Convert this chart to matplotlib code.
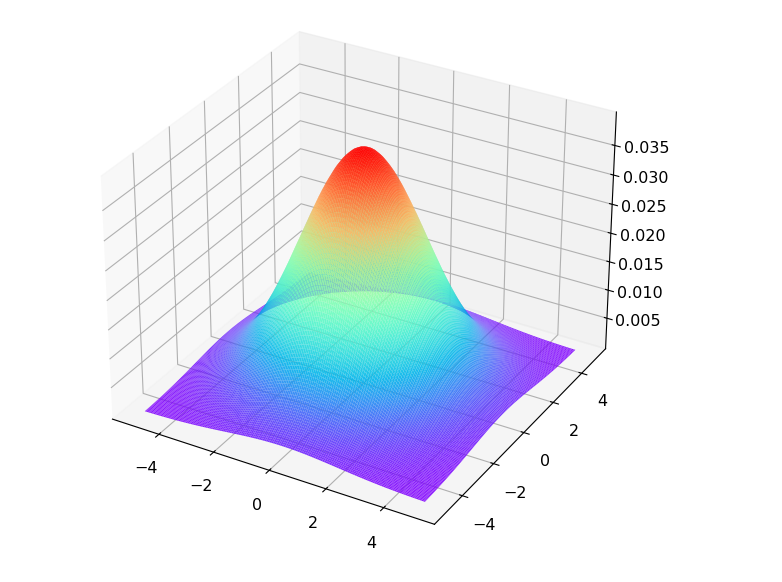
import numpy as np
import matplotlib
matplotlib.use("Agg")
import matplotlib.pyplot as plt

# cross section through the peak, as a share of the peak height,
# from the centre out to the edge (0 to 5 in steps of 0.0625)
half_profile = [1.000, 1.000, 0.998, 0.996, 0.992, 0.988, 0.983, 0.976, 0.969, 0.961,
                0.952, 0.943, 0.932, 0.921, 0.909, 0.896, 0.882, 0.868, 0.854, 0.838,
                0.823, 0.806, 0.790, 0.772, 0.755, 0.737, 0.719, 0.700, 0.682, 0.663,
                0.644, 0.625, 0.607, 0.588, 0.569, 0.550, 0.531, 0.512, 0.494, 0.476,
                0.458, 0.440, 0.423, 0.405, 0.389, 0.372, 0.356, 0.340, 0.325, 0.310,
                0.295, 0.281, 0.267, 0.254, 0.241, 0.228, 0.216, 0.205, 0.193, 0.183,
                0.172, 0.163, 0.153, 0.144, 0.135, 0.127, 0.119, 0.112, 0.105, 0.098,
                0.091, 0.085, 0.080, 0.074, 0.069, 0.064, 0.060, 0.055, 0.051, 0.047, 0.044]
peak = 0.0398
z_ticks = [0.005, 0.010, 0.015, 0.020, 0.025, 0.030, 0.035]

profile = half_profile[::-1] + half_profile[1:]
pos = np.linspace(-5, 5, len(profile))
x, y = np.meshgrid(pos, pos)
z = peak * np.outer(profile, profile)

fig = plt.figure(figsize=(7.82, 5.82), dpi=100)
ax = fig.add_axes([-0.041, 0.037, 0.992, 0.985], projection="3d")
ax.plot_surface(x, y, z, cmap="rainbow", rstride=1, cstride=1, linewidth=0, antialiased=True, alpha=0.9)
ax.set_zlim(-0.0005, 0.0406, view_margin=0)
ax.set_zticks(z_ticks)
ax.tick_params(labelsize=11.5, pad=6)

fig.savefig("out.png", dpi=100)
